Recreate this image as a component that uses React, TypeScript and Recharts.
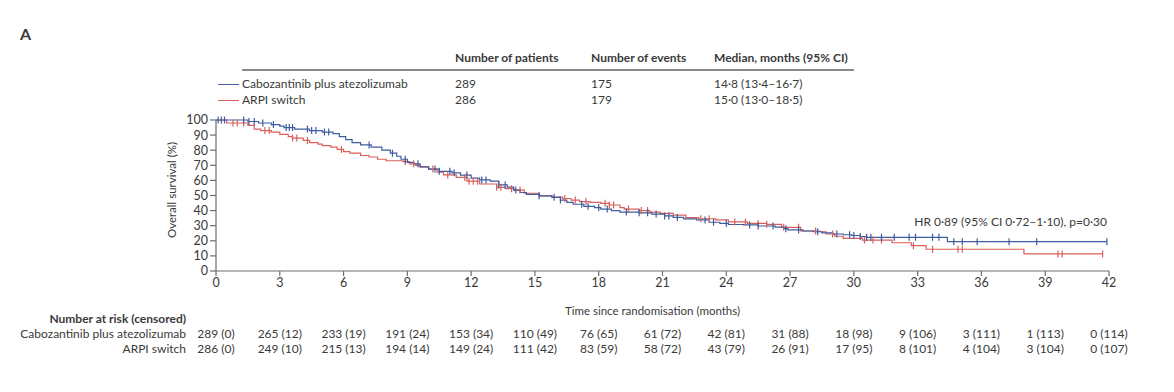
import { Line, LineChart, XAxis, YAxis } from "recharts";

const FONT = "Lato, 'Liberation Sans', sans-serif";
const BLUE = "#3f5c9e";
const RED = "#d9605a";
const TXT = "#3a3a3a";
const AXIS = "#6e6e6e";

const months = [0, 3, 6, 9, 12, 15, 18, 21, 24, 27, 30, 33, 36, 39, 42];
const pctTicks = [0, 10, 20, 30, 40, 50, 60, 70, 80, 90, 100];

// step points of the KM curves: [month, survival %]
const caboSteps: [number, number][] = [
  [0, 100], [1.5, 99], [2.0, 98], [2.6, 97], [3.0, 96], [3.2, 95], [3.7, 94], [4.4, 93],
  [5.0, 92], [5.5, 91], [5.8, 89], [6.1, 87], [6.4, 85], [6.8, 83.5], [7.3, 82], [7.8, 80],
  [8.2, 78], [8.5, 76], [8.7, 74], [9.0, 72], [9.3, 71], [9.6, 69], [10.0, 67.5], [10.5, 66],
  [11.1, 65], [11.5, 63.5], [12.0, 61.5], [12.4, 60.3], [12.9, 59.5], [13.3, 57], [13.7, 55.5],
  [14.0, 53.6], [14.3, 52], [14.6, 50.8], [15.2, 49.8], [15.8, 48.8], [16.2, 47], [16.5, 45.5],
  [16.8, 44.2], [17.3, 42.8], [17.8, 42], [18.1, 41], [18.6, 40], [19.0, 39], [19.9, 38.5],
  [20.5, 37.7], [21.1, 36.5], [21.5, 35.5], [22.0, 34.5], [22.6, 33.8], [23.2, 32.3], [23.7, 31.5],
  [24.1, 30.8], [24.8, 30.5], [25.5, 29.8], [26.3, 29], [26.7, 28], [26.9, 27.2], [27.6, 26.5],
  [28.1, 26], [28.5, 25.2], [29.0, 24.5], [29.5, 24], [29.9, 23.5], [30.3, 22.8], [30.6, 22.3],
  [34.4, 19.4],
];
const caboCensored = [
  0.1, 0.25, 0.4, 1.3, 1.55, 1.8, 2.2, 2.7, 3.3, 3.45, 3.6, 4.3, 4.5, 4.7, 5.1, 5.3, 7.2, 8.3,
  8.9, 9.5, 10.3, 10.5, 11.0, 11.2, 11.8, 12.5, 12.7, 13.3, 13.6, 14.1, 15.2, 15.9, 16.2, 17.2,
  17.5, 18.0, 18.4, 19.3, 19.9, 20.3, 20.7, 21.1, 21.3, 21.7, 23.0, 23.4, 24.0, 25.1, 25.5, 26.2,
  26.8, 27.4, 28.3, 29.2, 29.8, 30.0, 30.3, 30.6, 30.8, 31.3, 31.9, 32.6, 32.9, 33.7, 34.0, 34.7,
  35.1, 35.8, 37.3, 38.6, 41.9,
];

const arpiSteps: [number, number][] = [
  [0, 100], [0.5, 98], [1.5, 96.5], [1.8, 94], [2.1, 93], [2.6, 92], [3.0, 90.5], [3.4, 89],
  [3.6, 88], [4.1, 86.5], [4.4, 85], [4.8, 84], [5.0, 83], [5.4, 82], [5.7, 80.5], [6.0, 79],
  [6.3, 78], [6.8, 76.5], [7.2, 75.5], [7.6, 74], [8.0, 73], [8.8, 72.5], [9.1, 71], [9.4, 70],
  [9.6, 69], [10.0, 67.5], [10.4, 65.5], [10.7, 63.6], [11.3, 62], [11.8, 59.5], [12.4, 57.6],
  [13.2, 55.4], [13.6, 54.5], [14.0, 53.6], [14.5, 51.5], [15.2, 49.7], [15.8, 49], [16.3, 48],
  [16.7, 47], [17.1, 46], [17.6, 45.5], [18.1, 44.8], [18.5, 43.7], [19.0, 42], [19.2, 41],
  [19.9, 40], [20.4, 39], [20.9, 38.2], [21.5, 37], [22.1, 35.3], [22.7, 34.6], [23.5, 33.8],
  [24.1, 32.5], [25.0, 31.5], [25.9, 30.9], [26.6, 28.9], [27.5, 26.5], [28.4, 26], [28.7, 24.5],
  [29.1, 23], [29.5, 21.6], [30.4, 20.5], [31.8, 18.7], [32.7, 16.8], [33.4, 14.4], [38.0, 11.3],
];
const arpiCensored = [
  0.8, 1.0, 1.3, 2.3, 2.5, 3.6, 3.8, 4.3, 5.9, 8.9, 9.3, 10.2, 10.9, 11.7, 11.9, 12.1, 12.3, 13.2,
  13.4, 13.9, 14.3, 16.4, 16.9, 17.4, 18.3, 18.5, 18.7, 19.4, 20.0, 20.3, 22.8, 23.2, 24.4, 24.9,
  25.5, 25.9, 26.7, 27.4, 28.2, 29.0, 30.5, 30.9, 31.3, 32.8, 33.7, 34.9, 35.1, 39.6, 39.8, 41.7,
];

const riskCabo = [
  "289 (0)", "265 (12)", "233 (19)", "191 (24)", "153 (34)", "110 (49)", "76 (65)", "61 (72)",
  "42 (81)", "31 (88)", "18 (98)", "9 (106)", "3 (111)", "1 (113)", "0 (114)",
];
const riskArpi = [
  "286 (0)", "249 (10)", "215 (13)", "194 (14)", "149 (24)", "111 (42)", "83 (59)", "58 (72)",
  "43 (79)", "26 (91)", "17 (95)", "8 (101)", "4 (104)", "3 (104)", "0 (107)",
];

type Pt = { t: number; s: number; c: boolean };

function buildCurve(steps: [number, number][], censored: number[]): Pt[] {
  const pts: Pt[] = steps.map(([t, s]) => ({ t, s, c: false }));
  censored.forEach((t) => {
    let s = steps[0][1];
    for (const [st, sv] of steps) if (st <= t) s = sv;
    pts.push({ t, s, c: true });
  });
  return pts.sort((a, b) => a.t - b.t);
}

const caboData = buildCurve(caboSteps, caboCensored);
const arpiData = buildCurve(arpiSteps, arpiCensored);

const censorMark = (color: string) => (props: any) => {
  const { cx, cy, payload, index } = props;
  if (!payload || !payload.c) return <g key={`n-${index}`} />;
  return (
    <line key={`c-${index}`} x1={cx} x2={cx} y1={cy - 3.5} y2={cy + 3.5} stroke={color} strokeWidth={1.2} />
  );
};

const T = ({ x, y, children, size = 12, bold = false, align = "left", color = TXT }: any) => (
  <div
    style={{
      position: "absolute",
      left: x,
      top: y,
      fontSize: size,
      fontWeight: bold ? 700 : 400,
      color,
      whiteSpace: "nowrap",
      lineHeight: 1,
      transform: align === "right" ? "translate(-100%, -50%)" : "translateY(-50%)",
    }}
  >
    {children}
  </div>
);

const tickStyle = { fontSize: 12.5, fill: TXT, fontFamily: FONT };
const riskStyle = { fontSize: 12, fill: TXT, fontFamily: FONT };

export default function App() {
  return (
    <div style={{ position: "absolute", left: 0, top: 0, width: 1174, height: 392, background: "#fff", fontFamily: FONT }}>
      <T x={20} y={34} size={16} bold>A</T>

      <T x={455} y={58} bold>Number of patients</T>
      <T x={591} y={58} bold>Number of events</T>
      <T x={714} y={58} bold>Median, months (95% CI)</T>
      <div style={{ position: "absolute", left: 242, top: 69, width: 612, height: 2, background: "#8a8a8a" }} />

      <div style={{ position: "absolute", left: 218, top: 83.5, width: 21, height: 1.5, background: BLUE }} />
      <T x={242} y={84}>Cabozantinib plus atezolizumab</T>
      <T x={455} y={84}>289</T>
      <T x={591} y={84}>175</T>
      <T x={714} y={84}>14·8 (13·4–16·7)</T>

      <div style={{ position: "absolute", left: 218, top: 99.5, width: 21, height: 1.5, background: RED }} />
      <T x={242} y={100}>ARPI switch</T>
      <T x={455} y={100}>286</T>
      <T x={591} y={100}>179</T>
      <T x={714} y={100}>15·0 (13·0–18·5)</T>

      <div
        style={{
          position: "absolute",
          left: 172,
          top: 190,
          fontSize: 11.5,
          color: TXT,
          whiteSpace: "nowrap",
          lineHeight: 1,
          transform: "translate(-50%, -50%) rotate(-90deg)",
        }}
      >
        Overall survival (%)
      </div>

      <T x={1107} y={222} size={12} align="right">HR 0·89 (95% CI 0·72–1·10), p=0·30</T>

      <T x={186} y={319} size={12} bold align="right">Number at risk (censored)</T>
      <T x={186} y={334} size={12} align="right">Cabozantinib plus atezolizumab</T>
      <T x={186} y={349} size={12} align="right">ARPI switch</T>

      <LineChart width={1174} height={392} margin={{ top: 120, right: 65, bottom: 35, left: 166 }}>
        <XAxis
          dataKey="t"
          type="number"
          domain={[0, 42]}
          ticks={months}
          interval={0}
          allowDataOverflow
          height={56}
          tick={tickStyle}
          tickSize={5}
          tickMargin={2}
          stroke={AXIS}
          strokeWidth={1.2}
          label={{ value: "Time since randomisation (months)", position: "insideBottom", offset: 12, dx: -10, style: { fontSize: 11.5, fill: TXT, fontFamily: FONT } }}
        />
        <XAxis
          xAxisId="r1"
          dataKey="t"
          type="number"
          domain={[0, 42]}
          ticks={months}
          interval={0}
          allowDataOverflow
          height={15}
          axisLine={false}
          tickLine={false}
          tickSize={0}
          tickMargin={2}
          tick={riskStyle}
          tickFormatter={(v: number) => riskCabo[months.indexOf(v)]}
        />
        <XAxis
          xAxisId="r2"
          dataKey="t"
          type="number"
          domain={[0, 42]}
          ticks={months}
          interval={0}
          allowDataOverflow
          height={15}
          axisLine={false}
          tickLine={false}
          tickSize={0}
          tickMargin={2}
          tick={riskStyle}
          tickFormatter={(v: number) => riskArpi[months.indexOf(v)]}
        />
        <YAxis
          type="number"
          domain={[0, 100]}
          ticks={pctTicks}
          interval={0}
          width={50}
          tick={tickStyle}
          tickSize={6}
          tickMargin={2}
          stroke={AXIS}
          strokeWidth={1.2}
        />
        {/* invisible series that bind the number-at-risk axes */}
        <Line xAxisId="r1" data={caboData} dataKey="s" stroke="none" dot={false} activeDot={false} legendType="none" isAnimationActive={false} />
        <Line xAxisId="r2" data={arpiData} dataKey="s" stroke="none" dot={false} activeDot={false} legendType="none" isAnimationActive={false} />
        <Line
          data={arpiData}
          dataKey="s"
          type="stepAfter"
          stroke={RED}
          strokeWidth={1.2}
          dot={censorMark(RED)}
          activeDot={false}
          isAnimationActive={false}
        />
        <Line
          data={caboData}
          dataKey="s"
          type="stepAfter"
          stroke={BLUE}
          strokeWidth={1.2}
          dot={censorMark(BLUE)}
          activeDot={false}
          isAnimationActive={false}
        />
      </LineChart>
    </div>
  );
}
